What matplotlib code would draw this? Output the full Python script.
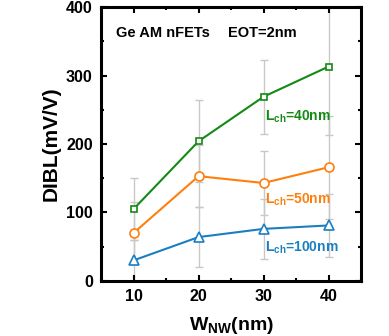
import matplotlib
matplotlib.use('Agg')
import matplotlib.pyplot as plt
from matplotlib.ticker import MultipleLocator

plt.rcParams['font.family'] = ['Liberation Sans', 'DejaVu Sans']
plt.rcParams['font.weight'] = 'bold'
plt.rcParams['mathtext.fontset'] = 'custom'
plt.rcParams['mathtext.rm'] = 'Liberation Sans:bold'
plt.rcParams['mathtext.bf'] = 'Liberation Sans:bold'
plt.rcParams['mathtext.default'] = 'bf'

w_nw = [10, 20, 30, 40]
dibl_40 = [105, 204, 269, 313]
dibl_50 = [70, 153, 143, 166]
dibl_100 = [30, 64, 76, 81]
err_40 = [45, 60, 54, 100]
err_50 = [45, 45, 47, 75]
err_100 = [30, 44, 44, 46]

green = '#138a13'
orange = '#ff7f0e'
blue = '#1a7fc1'
gray = '#c8c8c8'

fig = plt.figure(figsize=(3.89, 3.36), dpi=100)
ax = fig.add_axes([0.26, 0.164, 0.668, 0.815])

series = [
    (dibl_40, err_40, green, 's', 5),
    (dibl_50, err_50, orange, 'o', 6.5),
    (dibl_100, err_100, blue, '^', 6.5),
]
for ys, es, c, m, ms in series:
    ax.errorbar(w_nw, ys, yerr=es, fmt='none', ecolor=gray, elinewidth=1,
                capsize=3, capthick=1, zorder=1)
for ys, es, c, m, ms in series:
    ax.plot(w_nw, ys, color=c, marker=m, markersize=ms, markerfacecolor='white',
            markeredgecolor=c, markeredgewidth=1.2, linewidth=1.5, zorder=3)

ax.set_xlim(5, 45)
ax.set_ylim(0, 400)
ax.xaxis.set_major_locator(MultipleLocator(10))
ax.xaxis.set_minor_locator(MultipleLocator(5))
ax.yaxis.set_major_locator(MultipleLocator(100))
ax.yaxis.set_minor_locator(MultipleLocator(50))
ax.tick_params(which='both', direction='in', top=True, right=True, width=1.5,
               labelsize=11.5)
ax.tick_params(which='major', length=4, pad=6)
ax.tick_params(which='minor', length=2.5)
for s in ax.spines.values():
    s.set_linewidth(2.2)
for lab in ax.get_xticklabels() + ax.get_yticklabels():
    lab.set_fontweight('bold')

ax.set_xlabel(r'W$_{\mathbf{NW}}$(nm)', fontsize=14, fontweight='bold', labelpad=8)
ax.set_ylabel('DIBL(mV/V)', fontsize=15, fontweight='bold', labelpad=4)

ax.text(7.3, 362, 'Ge AM nFETs', fontsize=10.5, fontweight='bold', va='center')
ax.text(24.6, 362, 'EOT=2nm', fontsize=10.5, fontweight='bold', va='center')
ax.text(30.2, 240, r'L$_{\mathbf{ch}}$=40nm', color=green, fontsize=10, fontweight='bold', va='center')
ax.text(30.2, 118, r'L$_{\mathbf{ch}}$=50nm', color=orange, fontsize=10, fontweight='bold', va='center')
ax.text(30.2, 48, r'L$_{\mathbf{ch}}$=100nm', color=blue, fontsize=10, fontweight='bold', va='center')

fig.savefig('out.png', dpi=100)
